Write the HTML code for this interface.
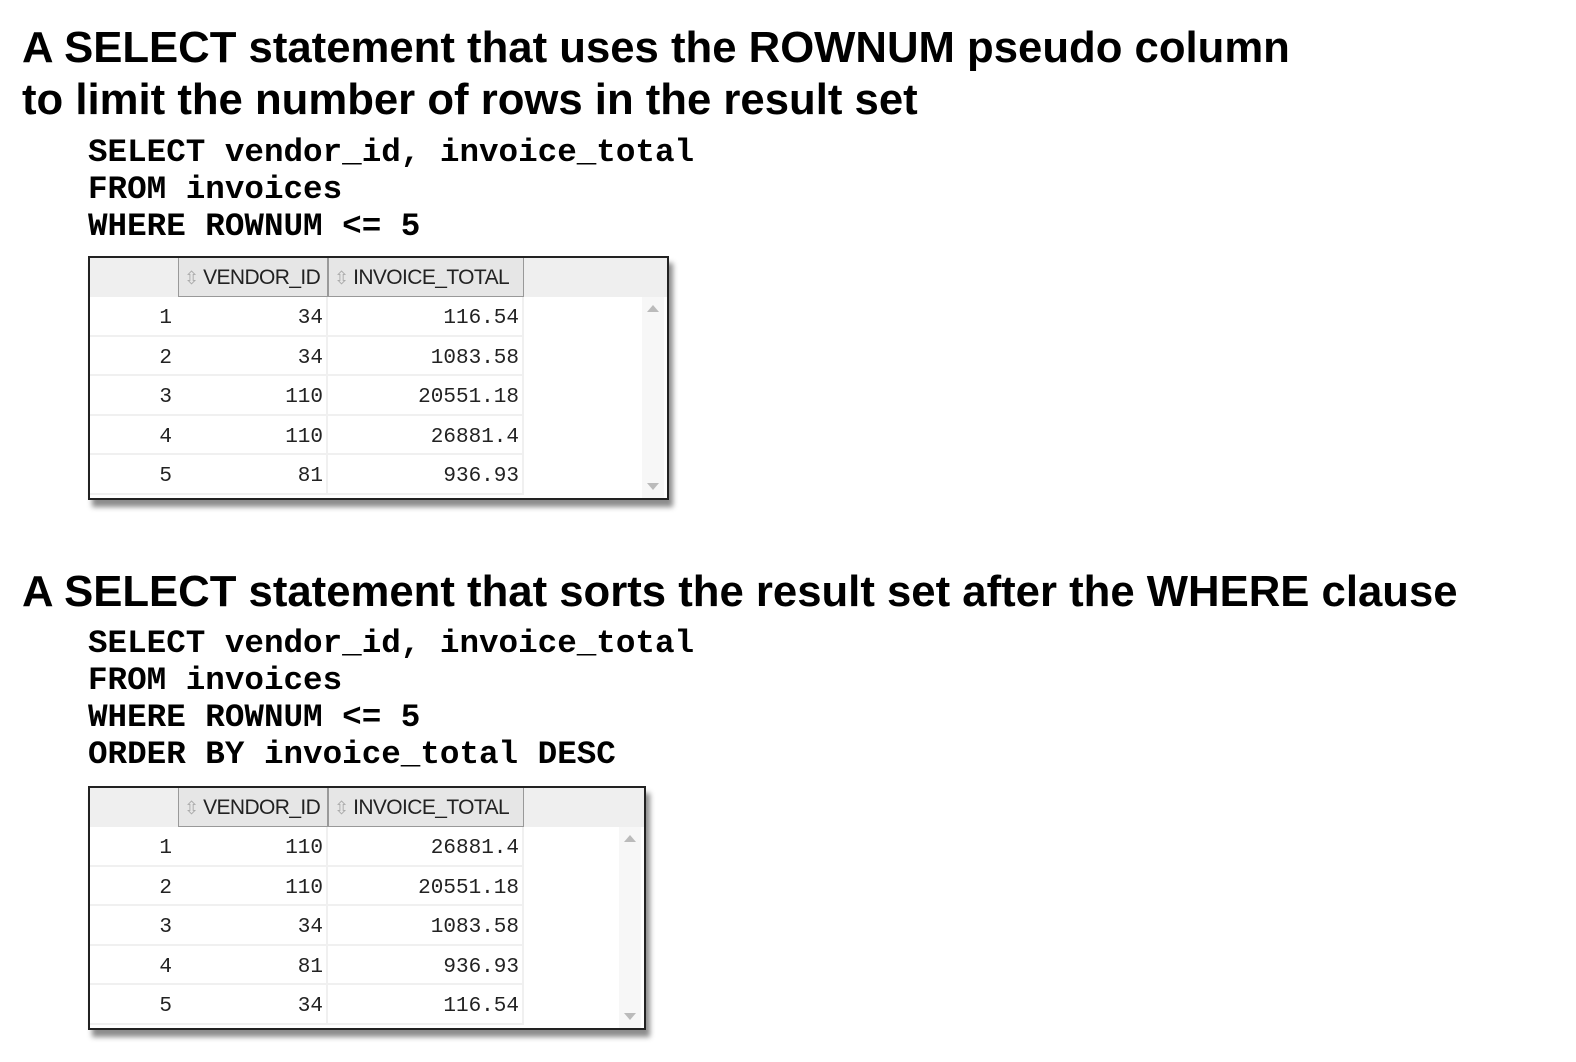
<!DOCTYPE html>
<html><head><meta charset="utf-8">
<style>
body{margin:0;width:1576px;height:1062px;background:#fff;position:relative;overflow:hidden;font-family:"Liberation Sans",sans-serif}
.t{position:absolute;left:22px;font-weight:bold;font-size:43.7px;color:#000;white-space:nowrap;line-height:1}
.c{position:absolute;left:88px;font-family:"Liberation Mono",monospace;font-weight:bold;font-size:32.6px;white-space:nowrap;line-height:1;color:#000}
.grid{position:absolute;border:2px solid #222;background:#fff;box-shadow:4px 7px 5px rgba(0,0,0,.45)}
.hdr{position:absolute;left:0;top:0;right:0;height:39px;background:#efefef}
.hc{position:absolute;top:0;height:38px;border:1px solid #999;border-top:none;background:#e6e6e6;font-size:21px;color:#222;line-height:40px;letter-spacing:-0.6px;white-space:nowrap}
.hc span{color:#aaa;font-size:18px;margin:0 4px 0 5px;letter-spacing:0}
.cell{position:absolute;font-family:"Liberation Mono",monospace;font-size:21px;color:#222;text-align:right;line-height:44px;border-bottom:2px solid #f0f0f0;border-right:2px solid #f0f0f0;box-sizing:border-box;padding-right:3px}
.sb{position:absolute;top:39px;bottom:0;width:22px;background:#f7f7f7}
.sb .up,.sb .dn{position:absolute;left:5px;width:0;height:0;border-left:6px solid transparent;border-right:6px solid transparent}
.sb .up{top:8px;border-bottom:7px solid #bbb}.sb .dn{bottom:8px;border-top:7px solid #bbb}
</style></head><body>
<div class="t" style="top:26px">A SELECT statement that uses the ROWNUM pseudo column</div>
<div class="t" style="top:78px">to limit the number of rows in the result set</div>
<div class="c" style="top:137px">SELECT vendor_id, invoice_total</div>
<div class="c" style="top:174px">FROM invoices</div>
<div class="c" style="top:211px">WHERE ROWNUM &lt;= 5</div>

<div class="t" style="top:570px">A SELECT statement that sorts the result set after the WHERE clause</div>
<div class="c" style="top:628px">SELECT vendor_id, invoice_total</div>
<div class="c" style="top:665px">FROM invoices</div>
<div class="c" style="top:702px">WHERE ROWNUM &lt;= 5</div>
<div class="c" style="top:739px">ORDER BY invoice_total DESC</div>

<script>
const vendors1 = [34, 34, 110, 110, 81];
const totals1 = ["116.54", "1083.58", "20551.18", "26881.4", "936.93"];
const vendors2 = [110, 110, 34, 81, 34];
const totals2 = ["26881.4", "20551.18", "1083.58", "936.93", "116.54"];
const headers = ["VENDOR_ID", "INVOICE_TOTAL"];

function makeGrid(name, left, top, width, vendors, totals){
  const g = document.createElement('div');
  g.className = 'grid';
  
  
  g.style.left = left + 'px'; g.style.top = top + 'px';
  g.style.width = (width - 1) + 'px'; g.style.height = '240px';
  document.body.appendChild(g);
  const h = document.createElement('div'); h.className = 'hdr';
  
  
  g.appendChild(h);
  const cols = [[88, 150], [238, 196]];
  headers.forEach((t, i) => {
    const c = document.createElement('div'); c.className = 'hc';
    
    
    c.style.left = cols[i][0] + 'px'; c.style.width = (cols[i][1] - 2) + 'px';
    c.innerHTML = '<span>⇳</span>' + t;
    h.appendChild(c);
  });
  vendors.forEach((v, r) => {
    const y = 39 + r * 39.6;
    const vals = [String(r + 1), String(v), totals[r]];
    const xs = [[0, 88], [88, 150], [238, 196]];
    vals.forEach((val, k) => {
      const c = document.createElement('div'); c.className = 'cell';
      
      
      c.style.left = xs[k][0] + 'px'; c.style.top = y + 'px';
      c.style.width = xs[k][1] + 'px'; c.style.height = '39.6px';
      if (k === 0) { c.style.borderRight = 'none'; c.style.paddingRight = '6px'; }
      c.textContent = val;
      g.appendChild(c);
    });
  });
  const sb = document.createElement('div'); sb.className = 'sb';
  
  
  sb.style.left = (width - 26) + 'px';
  sb.innerHTML = '<div class="up"></div><div class="dn"></div>';
  g.appendChild(sb);
}
makeGrid('result-grid-1', 88, 256, 578, vendors1, totals1);
makeGrid('result-grid-2', 88, 786, 555, vendors2, totals2);
</script>
</body></html>
